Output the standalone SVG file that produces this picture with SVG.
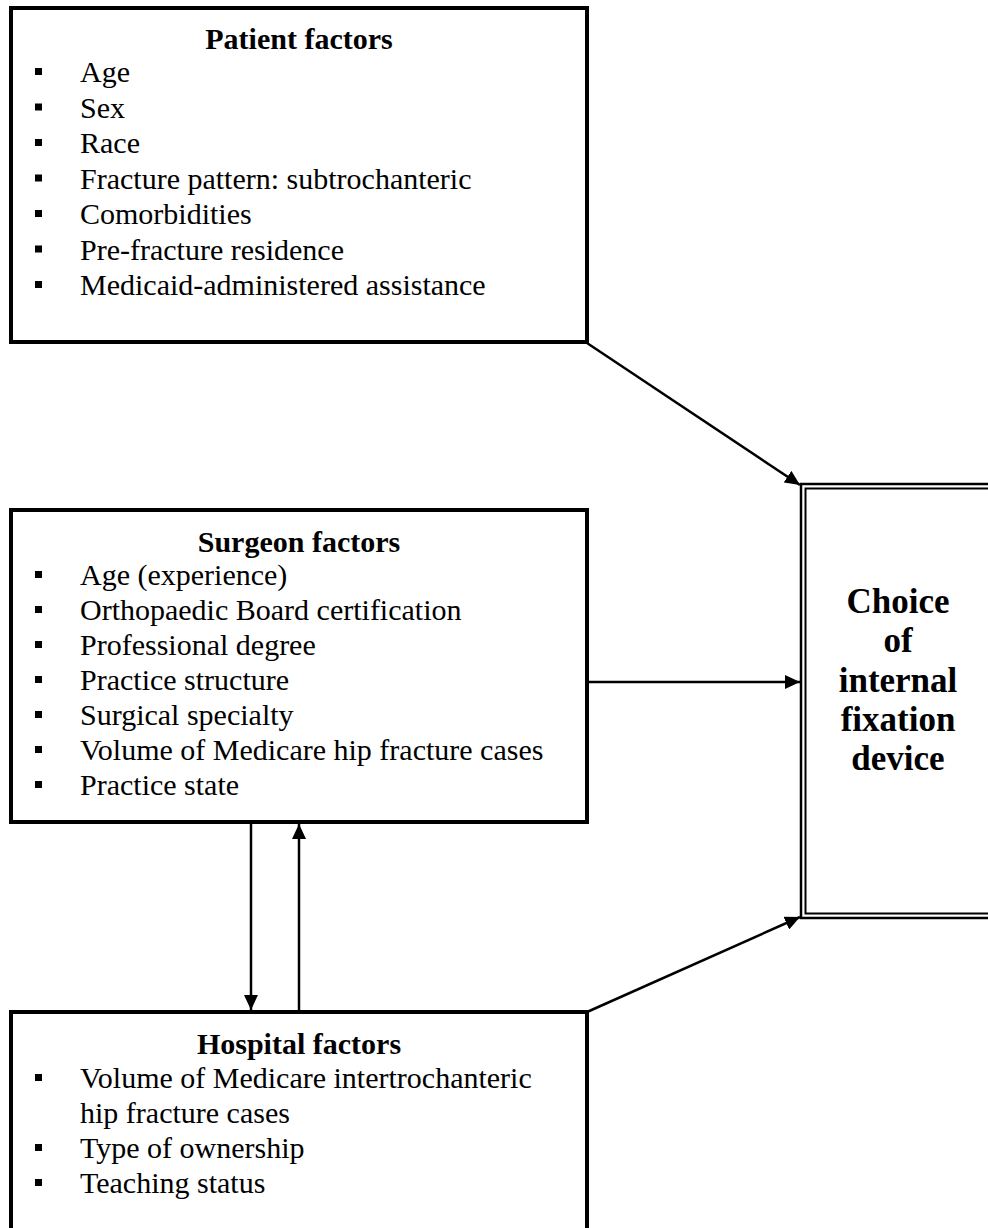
<svg xmlns="http://www.w3.org/2000/svg" width="988" height="1228" viewBox="0 0 988 1228">
<style>
.box{fill:#fff;stroke:#000;stroke-width:4}
.dbl{fill:none;stroke:#000}
.title{font-family:"Liberation Serif","Times New Roman",serif;font-weight:bold;font-size:30px;text-anchor:middle}
.item{font-family:"Liberation Serif","Times New Roman",serif;font-size:30px}
.big{font-family:"Liberation Serif","Times New Roman",serif;font-weight:bold;font-size:35px;text-anchor:middle}
.bul{fill:#000}
.conn{stroke:#000;stroke-width:2.5;fill:none}
</style>
<defs>
<marker id="ah" markerUnits="userSpaceOnUse" markerWidth="16" markerHeight="14" refX="15" refY="7" orient="auto">
<path d="M0,0 L15,7 L0,14 z" fill="#000"/>
</marker>
<rect id="b" width="7" height="7"/>
</defs>
<rect width="988" height="1228" fill="#fff"/>
<g id="patient">
<rect class="box" x="11" y="8" width="576" height="334"/>
<text class="title" x="299" y="49">Patient factors</text>
<g class="bul">
<use href="#b" x="35" y="68"/><use href="#b" x="35" y="103.5"/><use href="#b" x="35" y="139"/><use href="#b" x="35" y="174.5"/><use href="#b" x="35" y="210"/><use href="#b" x="35" y="245.5"/><use href="#b" x="35" y="281"/>
</g>
<text class="item" x="80" y="82">Age</text>
<text class="item" x="80" y="117.5">Sex</text>
<text class="item" x="80" y="153">Race</text>
<text class="item" x="80" y="188.5">Fracture pattern: subtrochanteric</text>
<text class="item" x="80" y="224">Comorbidities</text>
<text class="item" x="80" y="259.5">Pre-fracture residence</text>
<text class="item" x="80" y="295">Medicaid-administered assistance</text>
</g>
<g id="surgeon">
<rect class="box" x="11" y="510" width="576" height="312"/>
<text class="title" x="299" y="552">Surgeon factors</text>
<g class="bul">
<use href="#b" x="35" y="571"/><use href="#b" x="35" y="606"/><use href="#b" x="35" y="641"/><use href="#b" x="35" y="676"/><use href="#b" x="35" y="711"/><use href="#b" x="35" y="746"/><use href="#b" x="35" y="781"/>
</g>
<text class="item" x="80" y="585">Age (experience)</text>
<text class="item" x="80" y="620">Orthopaedic Board certification</text>
<text class="item" x="80" y="655">Professional degree</text>
<text class="item" x="80" y="690">Practice structure</text>
<text class="item" x="80" y="725">Surgical specialty</text>
<text class="item" x="80" y="760">Volume of Medicare hip fracture cases</text>
<text class="item" x="80" y="795">Practice state</text>
</g>
<g id="hospital">
<rect class="box" x="11" y="1012" width="576" height="230"/>
<text class="title" x="299" y="1054">Hospital factors</text>
<g class="bul">
<use href="#b" x="35" y="1074"/><use href="#b" x="35" y="1144"/><use href="#b" x="35" y="1179"/>
</g>
<text class="item" x="80" y="1088">Volume of Medicare intertrochanteric</text>
<text class="item" x="80" y="1123">hip fracture cases</text>
<text class="item" x="80" y="1158">Type of ownership</text>
<text class="item" x="80" y="1193">Teaching status</text>
</g>
<g id="choice">
<rect class="dbl" x="801" y="484" width="200" height="434" stroke-width="2.5"/>
<rect class="dbl" x="805.5" y="488.5" width="200" height="425" stroke-width="2"/>
<text class="big" x="898" y="613">Choice</text>
<text class="big" x="898" y="652">of</text>
<text class="big" x="898" y="692">internal</text>
<text class="big" x="898" y="731">fixation</text>
<text class="big" x="898" y="770">device</text>
</g>
<g id="connectors">
<line class="conn" x1="587" y1="343" x2="800" y2="485" marker-end="url(#ah)"/>
<line class="conn" x1="587" y1="682" x2="800" y2="682" marker-end="url(#ah)"/>
<line class="conn" x1="587" y1="1012" x2="800" y2="917" marker-end="url(#ah)"/>
<line class="conn" x1="251" y1="822" x2="251" y2="1010" marker-end="url(#ah)"/>
<line class="conn" x1="299" y1="1010" x2="299" y2="824" marker-end="url(#ah)"/>
</g>
</svg>
